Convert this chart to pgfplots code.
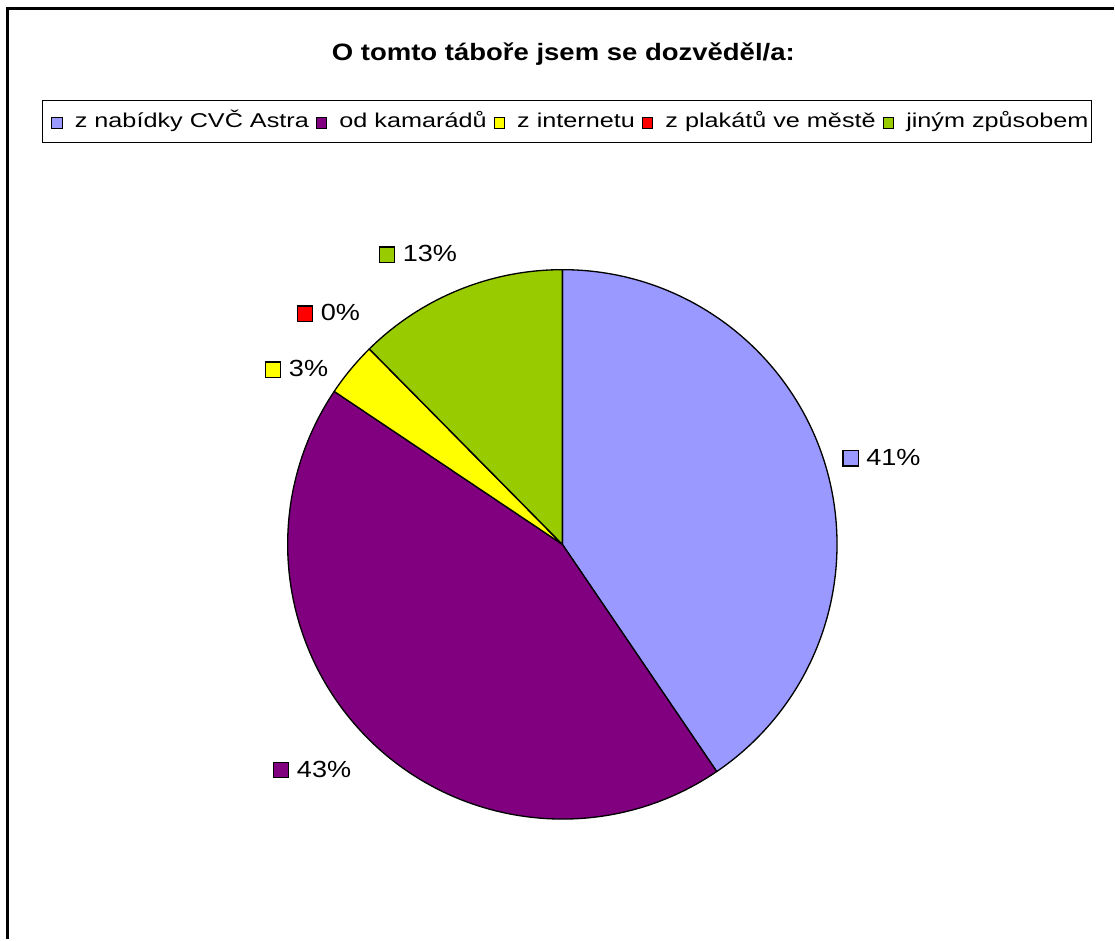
\documentclass[border=0pt]{standalone}
\usepackage{pgfplots}
\usepackage{pgfplotstable}
\pgfplotsset{compat=1.18}
\usepackage{fontspec}
\setmainfont{Liberation Sans}
\newfontfamily\titlefont{Liberation Sans}[FakeStretch=1.16]
\newfontfamily\legfont{Liberation Sans}[FakeStretch=1.26]
\newfontfamily\labfont{Liberation Sans}[FakeStretch=1.16]

\definecolor{pieblue}{HTML}{9999FF}
\definecolor{piepurple}{HTML}{800080}
\definecolor{pieyellow}{HTML}{FFFF00}
\definecolor{piered}{HTML}{FF0000}
\definecolor{piegreen}{HTML}{99CC00}

% share of answers in percent, clockwise from 12 o'clock
\pgfplotstableread{
share col
40.5 pieblue
43.9 piepurple
3.2  pieyellow
0    piered
12.4 piegreen
}\piedata

\newcommand\lsq[1]{{\setlength\fboxsep{0pt}\setlength\fboxrule{0.6pt}%
  \fcolorbox{black}{#1}{\rule{0pt}{0.19cm}\rule{0.19cm}{0pt}}}}
\newcommand\psq[1]{{\setlength\fboxsep{0pt}\setlength\fboxrule{0.7pt}%
  \fcolorbox{black}{#1}{\rule{0pt}{0.28cm}\rule{0.28cm}{0pt}}}}

\begin{document}
\begin{tikzpicture}
\begin{axis}[
  scale only axis,
  width=22.3cm, height=18.8cm,
  xmin=0, xmax=1115, ymin=0, ymax=940,
  y dir=reverse,
  hide axis,
  clip=false,
]
  \path (axis cs:0,0) rectangle (axis cs:1115,940);
  % outer frame (right and bottom edges cut off)
  \draw[line width=1.5pt] (axis cs:7.5,940) -- (axis cs:7.5,8.5) -- (axis cs:1115,8.5);

  % pie wedges, radius 275 px = 5.5cm
  \pgfmathsetmacro{\angA}{90}
  \pgfplotsforeachungrouped \i in {0,...,4}{%
    \pgfplotstablegetelem{\i}{share}\of\piedata \let\pieval=\pgfplotsretval
    \pgfplotstablegetelem{\i}{col}\of\piedata \let\piecol=\pgfplotsretval
    \pgfmathsetmacro{\angB}{\angA-3.6*\pieval}
    \edef\temp{\noexpand\filldraw[fill=\piecol, draw=black, line width=0.75pt, line join=round]
      (axis cs:563,545) -- ++(\angA:5.5cm) arc[start angle=\angA, end angle=\angB, radius=5.5cm] -- cycle;}
    \temp
    \global\let\angA=\angB
  }

  % title
  \node[anchor=base, inner sep=0pt] at (axis cs:564,61)
    {\titlefont\fontsize{13.5}{16}\selectfont\bfseries O tomto táboře jsem se dozvěděl/a:};

  % legend
  \draw[line width=0.6pt] (axis cs:43,101) rectangle (axis cs:1093,143);
  \node[anchor=base west, inner sep=0pt] at (axis cs:51,128)
    {\legfont\fontsize{11.4}{13}\selectfont
     \lsq{pieblue}\hspace{0.24cm}z nabídky CVČ Astra\hspace{0.14cm}%
     \lsq{piepurple}\hspace{0.24cm}od kamarádů\hspace{0.14cm}%
     \lsq{pieyellow}\hspace{0.24cm}z internetu\hspace{0.14cm}%
     \lsq{piered}\hspace{0.24cm}z plakátů ve městě\hspace{0.14cm}%
     \lsq{piegreen}\hspace{0.24cm}jiným způsobem};

  % data labels
  \node[anchor=base west, inner sep=0pt] at (axis cs:843,466)
    {\labfont\fontsize{13.3}{15}\selectfont\psq{pieblue}\hspace{0.15cm}41\%};
  \node[anchor=base west, inner sep=0pt] at (axis cs:273,778)
    {\labfont\fontsize{13.3}{15}\selectfont\psq{piepurple}\hspace{0.15cm}43\%};
  \node[anchor=base west, inner sep=0pt] at (axis cs:265,377)
    {\labfont\fontsize{13.3}{15}\selectfont\psq{pieyellow}\hspace{0.15cm}3\%};
  \node[anchor=base west, inner sep=0pt] at (axis cs:297,321)
    {\labfont\fontsize{13.3}{15}\selectfont\psq{piered}\hspace{0.15cm}0\%};
  \node[anchor=base west, inner sep=0pt] at (axis cs:379,262)
    {\labfont\fontsize{13.3}{15}\selectfont\psq{piegreen}\hspace{0.15cm}13\%};
\end{axis}
\end{tikzpicture}
\end{document}
